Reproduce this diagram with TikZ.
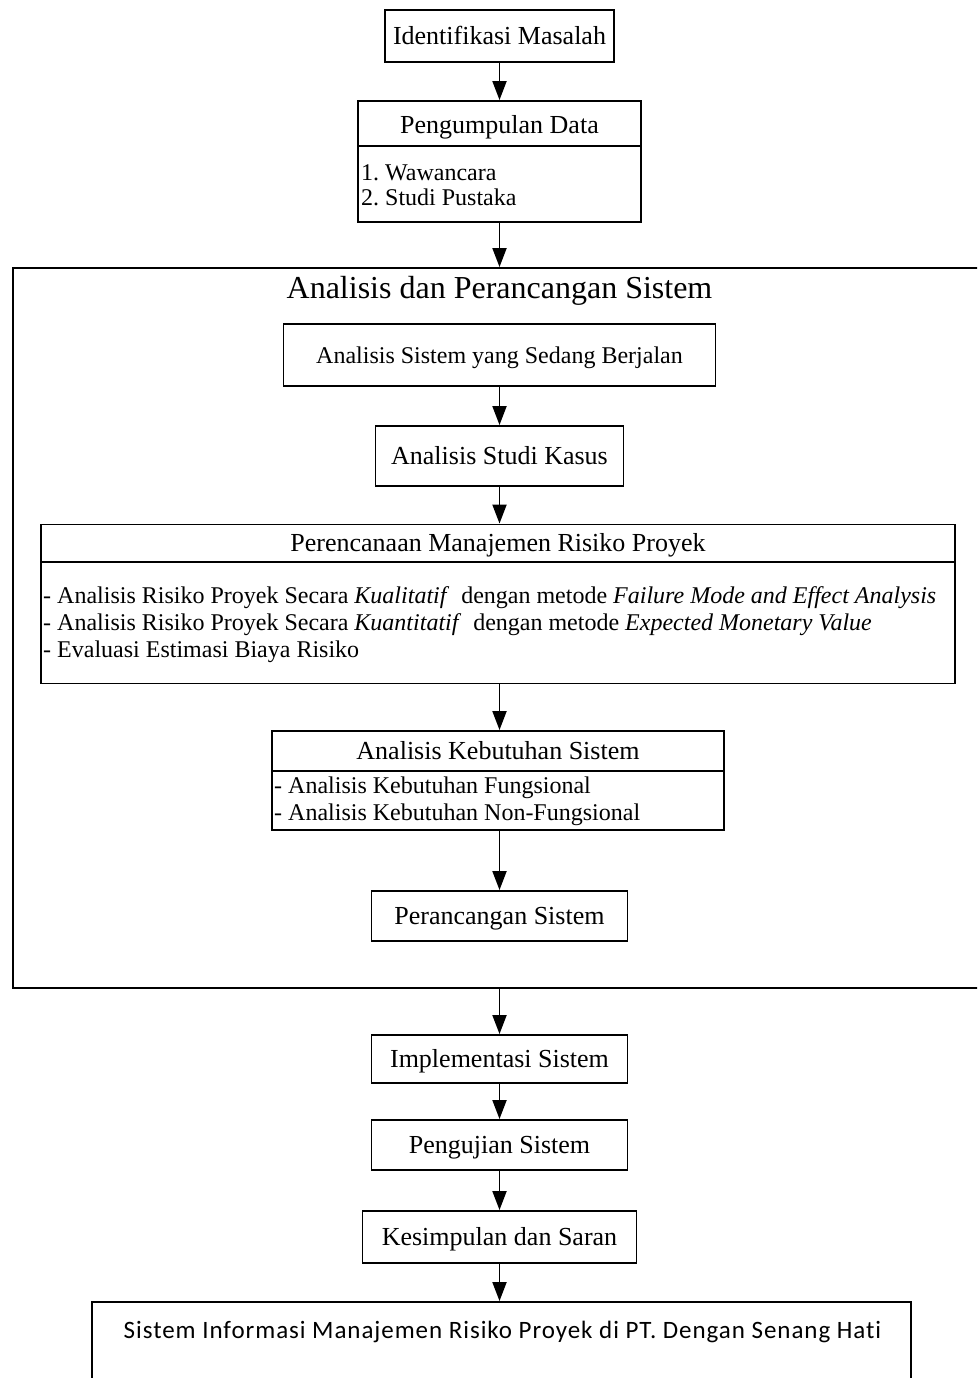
\documentclass[tikz,border=0pt]{standalone}
\usepackage{fontspec}
\setmainfont{Liberation Serif}
\newfontfamily\calfont[LetterSpace=3.8,Ligatures=NoCommon]{Carlito}
\usetikzlibrary{arrows.meta}
\frenchspacing
\begin{document}
\begin{tikzpicture}[x=1pt,y=-1pt,
  box/.style={draw, line width=1.9pt, inner sep=0pt, font=\fontsize{26}{30}\selectfont, text height=17pt, text depth=0pt},
  arr/.style={line width=1.9pt, -{Triangle[width=14pt,length=19pt]}},
  lbl/.style={inner sep=0pt, anchor=base west, font=\fontsize{24}{28}\selectfont},
  hdr/.style={inner sep=0pt, anchor=base, font=\fontsize{26}{30}\selectfont},
  sep/.style={line width=1.9pt},
]
\useasboundingbox (0,0) rectangle (977,1378);
\fill[white] (0,0) rectangle (977,1378);
\clip (0,0) rectangle (977,1378);

% top boxes
\node[box, minimum width=229pt, minimum height=52pt] (idm) at (499.5,36) {Identifikasi Masalah};
\node[box, minimum width=283pt, minimum height=121pt] (pd) at (499.5,161.5) {};
\node[hdr] (pdh) at (499.5,133) {Pengumpulan Data};
\draw[sep] (pd.west |- 0,146) -- (pd.east |- 0,146);
\node[lbl] (pd1) at (361,180) {1. Wawancara};
\node[lbl] (pd2) at (361,205) {2. Studi Pustaka};

% big frame
\node[draw, line width=1.9pt, inner sep=0pt, minimum width=987pt, minimum height=720pt] (frame) at (506.5,628) {};
\node[inner sep=0pt, anchor=base, font=\fontsize{32}{36}\selectfont] (title) at (499.5,298) {Analisis dan Perancangan Sistem};

\node[box, font=\fontsize{24}{28}\selectfont, text height=16pt, minimum width=432pt, minimum height=62pt] (asb) at (499.5,355) {Analisis Sistem yang Sedang Berjalan};
\node[box, minimum width=248pt, minimum height=60pt] (ask) at (499.5,456) {Analisis Studi Kasus};

\node[box, minimum width=914pt, minimum height=159pt] (pmr) at (498,604) {};
\node[hdr] (pmrh) at (498,551) {Perencanaan Manajemen Risiko Proyek};
\draw[sep] (pmr.west |- 0,562) -- (pmr.east |- 0,562);
\node[lbl] (pmr1) at (43,603) {- Analisis Risiko Proyek Secara \textit{Kualitatif}\ \ dengan metode \textit{Failure Mode and Effect Analysis}};
\node[lbl] (pmr2) at (43,630) {- Analisis Risiko Proyek Secara \textit{Kuantitatif}\ \ dengan metode \textit{Expected Monetary Value}};
\node[lbl] (pmr3) at (43,657) {- Evaluasi Estimasi Biaya Risiko};

\node[box, minimum width=452pt, minimum height=99pt] (akb) at (498,780.5) {};
\node[hdr] (akbh) at (498,759) {Analisis Kebutuhan Sistem};
\draw[sep] (akb.west |- 0,771) -- (akb.east |- 0,771);
\node[lbl] (akb1) at (274,793) {- Analisis Kebutuhan Fungsional};
\node[lbl] (akb2) at (274,820) {- Analisis Kebutuhan Non-Fungsional};

\node[box, minimum width=256pt, minimum height=50pt] (ps) at (499.5,916) {Perancangan Sistem};

% bottom boxes
\node[box, minimum width=256pt, minimum height=48pt] (is) at (499.5,1059) {Implementasi Sistem};
\node[box, minimum width=256pt, minimum height=50pt] (pgs) at (499.5,1145) {Pengujian Sistem};
\node[box, minimum width=274pt, minimum height=52pt] (ks) at (499.5,1237) {Kesimpulan dan Saran};
\node[draw, line width=1.9pt, inner sep=0pt, minimum width=819pt, minimum height=140pt] (sim) at (501.5,1372) {};
\node[inner sep=0pt, anchor=base, font=\calfont\fontsize{25}{29}\selectfont] (simt) at (502.5,1338) {Sistem Informasi Manajemen Risiko Proyek di PT. Dengan Senang Hati};

% connectors
\draw[arr] (idm.south) -- (pd.north);
\draw[arr] (pd.south) -- (pd.south |- frame.north);
\draw[arr] (asb.south) -- (ask.north);
\draw[arr] (ask.south) -- (ask.south |- pmr.north);
\draw[arr] (ask.south |- pmr.south) -- (ask.south |- akb.north);
\draw[arr] (ask.south |- akb.south) -- (ps.north);
\draw[arr] (ps.south |- frame.south) -- (is.north);
\draw[arr] (is.south) -- (pgs.north);
\draw[arr] (pgs.south) -- (ks.north);
\draw[arr] (ks.south) -- (ks.south |- sim.north);
\end{tikzpicture}
\end{document}
